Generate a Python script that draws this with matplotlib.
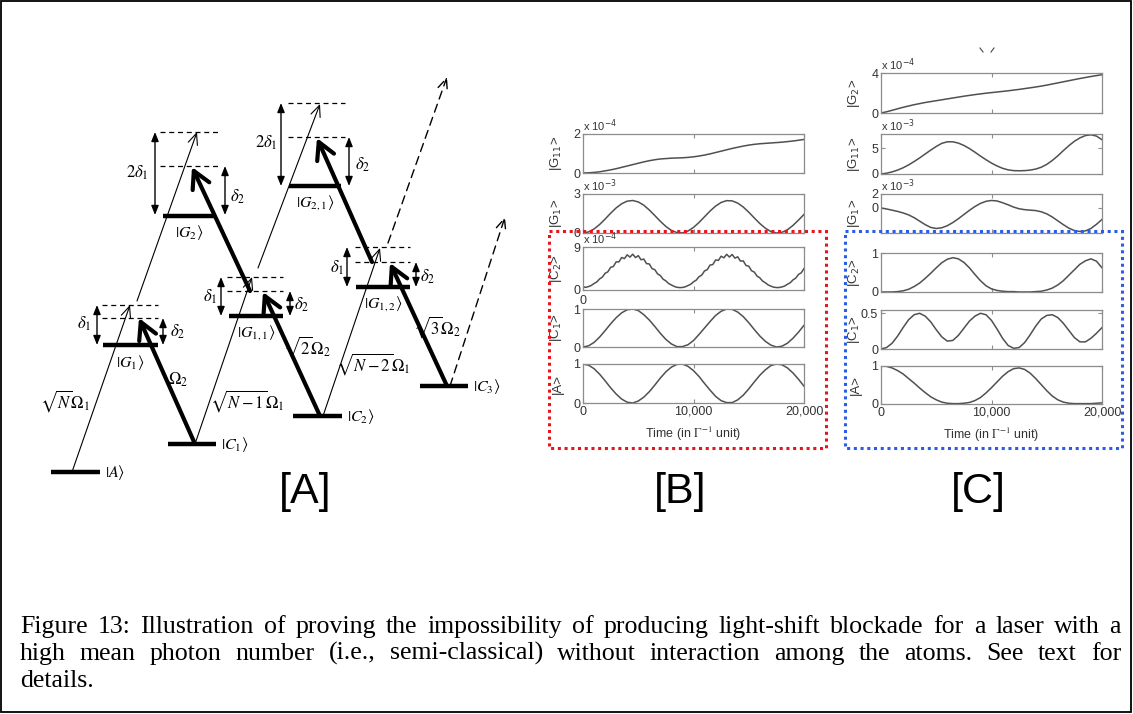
import numpy as np
import matplotlib
matplotlib.use('Agg')
import matplotlib.pyplot as plt
from matplotlib.patches import Rectangle

plt.rcParams['font.family'] = ['Liberation Sans', 'DejaVu Sans']
plt.rcParams['mathtext.fontset'] = 'stix'

W, H = 1133, 714

# ---------------- panel B / C data ----------------
time = np.arange(0, 20001, 500)
time_fine = np.arange(0, 20001, 250)

b_g11 = [0.00, 0.01, 0.03, 0.06, 0.11, 0.16, 0.22, 0.29, 0.36, 0.43, 0.50, 0.57, 0.63, 0.68,
         0.72, 0.74, 0.76, 0.77, 0.78, 0.80, 0.83, 0.87, 0.92, 0.98, 1.05, 1.12, 1.19, 1.26,
         1.32, 1.38, 1.43, 1.47, 1.50, 1.52, 1.54, 1.56, 1.58, 1.61, 1.64, 1.68, 1.72]
b_g1 = [0.00, 0.08, 0.31, 0.65, 1.07, 1.52, 1.93, 2.25, 2.45, 2.50, 2.39, 2.14, 1.77, 1.34,
        0.90, 0.50, 0.20, 0.03, 0.01, 0.15, 0.43, 0.81, 1.25, 1.69, 2.07, 2.35, 2.49, 2.47,
        2.30, 2.00, 1.60, 1.16, 0.73, 0.37, 0.11, 0.00, 0.05, 0.25, 0.58, 0.99, 1.43]
b_c2 = [0.70, 0.55, 0.72, 0.95, 1.36, 1.69, 2.32, 2.69, 3.50, 3.81, 4.74, 4.92, 5.89, 5.88,
        6.80, 6.57, 7.36, 6.88, 7.49, 6.79, 7.19, 6.33, 6.48, 5.52, 5.45, 4.48, 4.25, 3.37,
        3.02, 2.27, 1.90, 1.36, 1.05, 0.75, 0.57, 0.50, 0.53, 0.66, 0.93, 1.21, 1.71, 2.07,
        2.78, 3.13, 4.00, 4.27, 5.22, 5.33, 6.29, 6.19, 7.07, 6.74, 7.47, 6.90, 7.43, 6.66,
        6.95, 6.04, 6.10, 5.13, 4.99, 4.04, 3.75, 2.91, 2.55, 1.88, 1.52, 1.07, 0.81, 0.60,
        0.51, 0.52, 0.64, 0.83, 1.20, 1.52, 2.11, 2.48, 3.26, 3.59, 4.50]
b_c1 = [0.00, 0.03, 0.12, 0.26, 0.43, 0.61, 0.77, 0.90, 0.98, 1.00, 0.96, 0.85, 0.71, 0.54,
        0.36, 0.20, 0.08, 0.01, 0.01, 0.06, 0.17, 0.33, 0.50, 0.67, 0.83, 0.94, 1.00, 0.99,
        0.92, 0.80, 0.64, 0.46, 0.29, 0.15, 0.05, 0.00, 0.02, 0.10, 0.23, 0.39, 0.57]
b_a = [1.00, 0.97, 0.88, 0.74, 0.57, 0.39, 0.23, 0.10, 0.02, 0.00, 0.05, 0.15, 0.29, 0.46,
       0.64, 0.80, 0.92, 0.99, 1.00, 0.94, 0.83, 0.68, 0.50, 0.33, 0.17, 0.06, 0.01, 0.01,
       0.08, 0.20, 0.36, 0.54, 0.71, 0.85, 0.96, 1.00, 0.98, 0.90, 0.77, 0.61, 0.43]

c_g2 = [0.00, 0.12, 0.27, 0.42, 0.57, 0.70, 0.83, 0.94, 1.05, 1.14, 1.23, 1.32, 1.41, 1.50,
        1.59, 1.68, 1.76, 1.84, 1.91, 1.98, 2.04, 2.10, 2.16, 2.22, 2.29, 2.36, 2.44, 2.52,
        2.60, 2.69, 2.79, 2.90, 3.01, 3.12, 3.23, 3.34, 3.45, 3.55, 3.65, 3.74, 3.83]
c_g11 = [0.00, 0.15, 0.40, 0.75, 1.20, 1.75, 2.40, 3.10, 3.85, 4.60, 5.30, 5.90, 6.20, 6.20,
         5.95, 5.50, 4.90, 4.20, 3.45, 2.75, 2.10, 1.55, 1.10, 0.80, 0.65, 0.62, 0.65, 0.75,
         0.95, 1.30, 1.85, 2.60, 3.50, 4.50, 5.45, 6.30, 6.95, 7.40, 7.55, 7.30, 6.60]
c_g1 = [0.00, -0.15, -0.32, -0.50, -0.72, -1.00, -1.40, -1.90, -2.40, -2.80, -2.95, -2.85,
        -2.55, -2.10, -1.55, -0.95, -0.35, 0.20, 0.65, 0.95, 1.07, 1.00, 0.75, 0.45, 0.12,
        -0.12, -0.25, -0.32, -0.38, -0.55, -0.85, -1.30, -1.85, -2.40, -2.90, -3.25, -3.38,
        -3.30, -2.95, -2.35, -1.65]
c_c2 = [0.00, 0.00, 0.00, 0.01, 0.03, 0.07, 0.14, 0.23, 0.35, 0.48, 0.62, 0.75, 0.84, 0.88,
        0.85, 0.76, 0.62, 0.45, 0.29, 0.16, 0.08, 0.04, 0.02, 0.01, 0.01, 0.00, 0.00, 0.00,
        0.01, 0.02, 0.05, 0.10, 0.18, 0.29, 0.43, 0.57, 0.71, 0.80, 0.85, 0.79, 0.62]
c_c1 = [0.00, 0.02, 0.08, 0.18, 0.30, 0.41, 0.48, 0.50, 0.46, 0.38, 0.27, 0.17, 0.11, 0.12,
        0.19, 0.29, 0.39, 0.46, 0.50, 0.48, 0.40, 0.28, 0.15, 0.05, 0.01, 0.02, 0.09, 0.20,
        0.32, 0.42, 0.47, 0.48, 0.44, 0.36, 0.26, 0.16, 0.10, 0.10, 0.15, 0.22, 0.30]
c_a = [1.00, 0.99, 0.95, 0.88, 0.79, 0.67, 0.55, 0.42, 0.30, 0.19, 0.11, 0.05, 0.02, 0.01,
       0.01, 0.02, 0.04, 0.09, 0.17, 0.29, 0.43, 0.58, 0.73, 0.85, 0.93, 0.95, 0.91, 0.81,
       0.67, 0.51, 0.35, 0.21, 0.11, 0.05, 0.02, 0.01, 0.01, 0.01, 0.01, 0.02, 0.03]

# ---------------- panel A diagram (pixel coordinates) ----------------
level_labels = [r'$|A\rangle$', r'$|C_1\rangle$', r'$|C_2\rangle$', r'$|C_3\rangle$',
                r'$|G_1\rangle$', r'$|G_{1,1}\rangle$', r'$|G_{1,2}\rangle$',
                r'$|G_2\rangle$', r'$|G_{2,1}\rangle$']
level_x0 = [51, 168, 293, 420, 103, 229, 356, 163, 289]
level_x1 = [100, 216, 342, 468, 158, 283, 410, 215, 341]
level_y = [472, 444, 416, 386, 345, 316, 287, 216, 186]
label_side = ['right', 'right', 'right', 'right', 'below', 'below', 'below', 'below', 'below']

virtual_x0 = [102, 102, 160, 160, 227, 227, 288, 288, 355, 355]
virtual_x1 = [158, 158, 218, 218, 283, 283, 345, 345, 410, 410]
virtual_y = [305, 318, 132, 166, 277, 291, 103, 137, 247, 262]

thin_arrows = [((72, 472), (130, 305)), ((137, 301), (197, 132)), ((195, 444), (252, 277)),
               ((258, 268), (320, 104)), ((323, 416), (380, 248))]
thick_arrows = [((195, 444), (139, 318)), ((250, 291), (192, 167)), ((320, 416), (263, 292)),
                ((372, 262), (317, 138)), ((447, 386), (390, 263))]
dashed_arrows = [((450, 386), (505, 217)), ((388, 243), (447, 77))]
stray_marks = [((980, 48), (983, 52)), ((994, 48), (991, 52))]

delta_x = [97, 163, 155, 225, 221, 290, 281, 349, 347, 416]
delta_top = [305, 318, 132, 166, 277, 291, 103, 137, 247, 262]
delta_bot = [345, 345, 215, 215, 316, 316, 186, 186, 287, 287]
delta_labels = [r'$\delta_1$', r'$\delta_2$', r'$2\delta_1$', r'$\delta_2$', r'$\delta_1$',
                r'$\delta_2$', r'$2\delta_1$', r'$\delta_2$', r'$\delta_1$', r'$\delta_2$']
delta_lx = [84, 178, 137, 238, 210, 302, 266, 363, 337, 428]
delta_ly = [324, 332, 173, 197, 297, 305, 143, 165, 268, 277]

coupling_labels = [r'$\sqrt{N}\Omega_1$', r'$\Omega_2$', r'$\sqrt{N-1}\Omega_1$',
                   r'$\sqrt{2}\Omega_2$', r'$\sqrt{N-2}\Omega_1$', r'$\sqrt{3}\Omega_2$']
coupling_x = [65, 178, 247, 307, 373, 437]
coupling_y = [401, 380, 401, 347, 364, 327]

caption_lines = ["Figure 13: Illustration of proving the impossibility of producing light-shift "
                 "blockade for a laser with a",
                 "high mean photon number (i.e., semi-classical) without interaction among the "
                 "atoms.  See text for",
                 "details."]

fig = plt.figure(figsize=(W / 100, H / 100), dpi=100)
fig.patch.set_facecolor('white')

ax0 = fig.add_axes([0, 0, 1, 1])
ax0.set_xlim(0, W)
ax0.set_ylim(H, 0)
ax0.axis('off')
ax0.patch.set_alpha(0)
ax0.set_zorder(10)

# outer frame
ax0.add_patch(Rectangle((1, 1), W - 3, H - 3, fill=False, lw=1.3, ec='black'))

# levels
for lab, x0, x1, y, side in zip(level_labels, level_x0, level_x1, level_y, label_side):
    ax0.plot([x0, x1], [y, y], color='black', lw=3.2, solid_capstyle='butt')
    if side == 'right':
        ax0.text(x1 + 5, y, lab, fontsize=11.5, ha='left', va='center')
    else:
        ax0.text((x0 + x1) / 2, y + 17, lab, fontsize=11.5, ha='center', va='center')

for x0, x1, y in zip(virtual_x0, virtual_x1, virtual_y):
    ax0.plot([x0, x1], [y, y], color='black', lw=0.9, ls=(0, (4, 3)))

for tail, tip in thin_arrows:
    ax0.annotate('', xy=tip, xytext=tail,
                 arrowprops=dict(arrowstyle='->,head_length=0.8,head_width=0.35', lw=0.8,
                                 color='black', shrinkA=0, shrinkB=0))
for tail, tip in thick_arrows:
    ax0.annotate('', xy=tip, xytext=tail,
                 arrowprops=dict(arrowstyle='->,head_length=0.55,head_width=0.3', lw=3,
                                 color='black', shrinkA=0, shrinkB=0, mutation_scale=22))
for tail, tip in dashed_arrows:
    ax0.annotate('', xy=tip, xytext=tail,
                 arrowprops=dict(arrowstyle='->,head_length=0.8,head_width=0.35', lw=1.0,
                                 ls=(0, (6, 4)), color='black', shrinkA=0, shrinkB=0))
for a, b in stray_marks:
    ax0.plot([a[0], b[0]], [a[1], b[1]], color='#444444', lw=0.8)

for x, yt, yb in zip(delta_x, delta_top, delta_bot):
    ax0.annotate('', xy=(x, yt), xytext=(x, yb),
                 arrowprops=dict(arrowstyle='<|-|>,head_length=0.55,head_width=0.22', lw=1.0,
                                 color='black', shrinkA=0, shrinkB=0))
for lab, x, y in zip(delta_labels, delta_lx, delta_ly):
    ax0.text(x, y, lab, fontsize=12, ha='center', va='center')
for lab, x, y in zip(coupling_labels, coupling_x, coupling_y):
    ax0.text(x, y, lab, fontsize=12, ha='center', va='center')

# panel letters
for lab, x in zip(['[A]', '[B]', '[C]'], [305, 680, 978]):
    ax0.text(x, 492, lab, fontsize=31, ha='center', va='center', family='Liberation Sans')

# dotted boxes
ax0.add_patch(Rectangle((549, 231), 277, 217, fill=False, ec='#e8141c', lw=2.2, ls=(0, (1, 1.2))))
ax0.add_patch(Rectangle((845, 231), 277, 217, fill=False, ec='#2b5ce6', lw=2.2, ls=(0, (1, 1.2))))

# caption, justified like the source text
renderer = fig.canvas.get_renderer()
cap_x0, cap_x1 = 20, 1121
cap_y = [633, 660, 687]
for i, line in enumerate(caption_lines):
    words = line.split()
    texts = [ax0.text(0, cap_y[i], w, fontsize=18.6, family='Liberation Serif',
                      ha='left', va='baseline') for w in words]
    widths = [t.get_window_extent(renderer).width for t in texts]
    if i < 2:
        gap = (cap_x1 - cap_x0 - sum(widths)) / (len(words) - 1)
    else:
        gap = 5
    x = cap_x0
    for t, w in zip(texts, widths):
        t.set_x(x)
        x += w + gap


def px_axes(left, top, right, bottom):
    return fig.add_axes([left / W, 1 - bottom / H, (right - left) / W, (bottom - top) / H])


def matlab_style(ax, ylim, yticks, ylabel, scale=None, xlabels=False):
    ax.set_xlim(0, 20000)
    ax.set_ylim(*ylim)
    ax.set_xticks([0, 10000, 20000])
    ax.set_yticks(yticks)
    ax.set_yticklabels([('%g' % v) for v in yticks])
    ax.tick_params(direction='in', length=3, width=0.8, color='#8c8c8c', labelcolor='#333333',
                   labelsize=9, top=True, right=True, pad=2)
    for s in ax.spines.values():
        s.set_color('#8c8c8c')
        s.set_linewidth(0.9)
    if xlabels:
        ax.set_xticklabels(['0', '10,000', '20,000'])
        ax.set_xlabel(r'Time (in $\Gamma^{-1}$ unit)', fontsize=9, color='#333333', labelpad=5)
    else:
        ax.set_xticklabels([])
    ax.set_ylabel(ylabel, fontsize=9.5, color='#333333', math_fontfamily='dejavusans')
    ax.yaxis.set_label_coords(-0.085, 0.5)
    if scale is not None:
        ax.text(0.0, 1.01, 'x 10$^{%d}$' % scale, transform=ax.transAxes, fontsize=8,
                color='#333333', ha='left', va='bottom', math_fontfamily='dejavusans')


line_kw = dict(color='#505050', lw=1.1)

# panel B
b_left, b_right = 583, 804
ax = px_axes(b_left, 134, b_right, 173)
ax.plot(time, b_g11, **line_kw)
matlab_style(ax, (0, 2), [0, 2], '|G$_{11}$>', scale=-4)
ax = px_axes(b_left, 194, b_right, 233)
ax.plot(time, b_g1, **line_kw)
matlab_style(ax, (0, 3), [0, 3], '|G$_1$>', scale=-3)
ax = px_axes(b_left, 247, b_right, 290)
ax.plot(time_fine, b_c2, **line_kw)
matlab_style(ax, (0, 9), [0, 9], '|C$_2$>', scale=-4)
ax.text(0, -0.12, '0', transform=ax.transAxes, fontsize=9, color='#333333', ha='center', va='top')
ax = px_axes(b_left, 309, b_right, 347)
ax.plot(time, b_c1, **line_kw)
matlab_style(ax, (0, 1), [0, 1], '|C$_1$>')
ax = px_axes(b_left, 364, b_right, 403)
ax.plot(time, b_a, **line_kw)
matlab_style(ax, (0, 1), [0, 1], '|A>', xlabels=True)

# panel C
c_left, c_right = 881, 1102
ax = px_axes(c_left, 73, c_right, 113)
ax.plot(time, c_g2, **line_kw)
matlab_style(ax, (0, 4), [0, 4], '|G$_2$>', scale=-4)
ax = px_axes(c_left, 134, c_right, 174)
ax.plot(time, c_g11, **line_kw)
matlab_style(ax, (0, 7.7), [0, 5], '|G$_{11}$>', scale=-3)
ax = px_axes(c_left, 194, c_right, 233)
ax.plot(time, c_g1, **line_kw)
matlab_style(ax, (-3.6, 2), [0, 2], '|G$_1$>', scale=-3)
ax = px_axes(c_left, 253, c_right, 292)
ax.plot(time, c_c2, **line_kw)
matlab_style(ax, (0, 1), [0, 1], '|C$_2$>')
ax = px_axes(c_left, 310, c_right, 349)
ax.plot(time, c_c1, **line_kw)
matlab_style(ax, (0, 0.546), [0, 0.5], '|C$_1$>')
ax = px_axes(c_left, 366, c_right, 404)
ax.plot(time, c_a, **line_kw)
matlab_style(ax, (0, 1), [0, 1], '|A>', xlabels=True)

fig.savefig('out.png', dpi=100)
